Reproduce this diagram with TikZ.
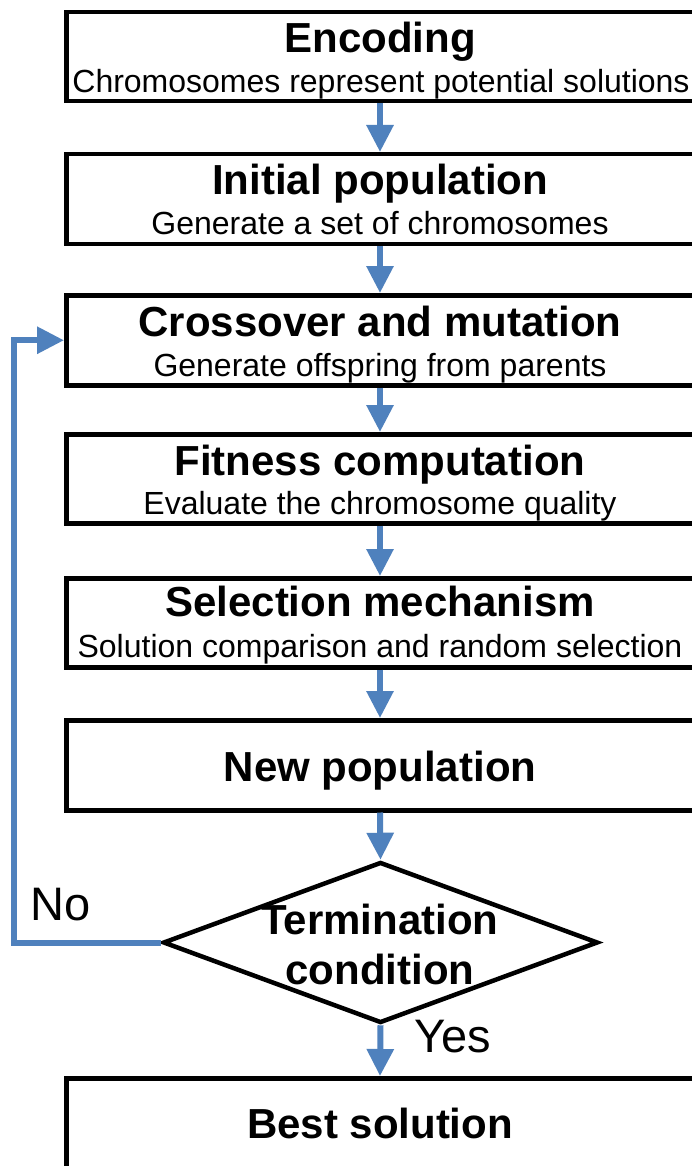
\documentclass[tikz,border=0pt]{standalone}
\usepackage{fontspec}
\setmainfont{Liberation Sans}
\usetikzlibrary{arrows.meta,shapes.geometric}
\definecolor{flowblue}{HTML}{4F81BD}
\tikzset{
  box/.style={draw=black, line width=4.5pt, fill=white, rectangle, inner sep=0pt, minimum width=632pt, anchor=north west},
  ttl/.style={anchor=base, inner sep=0pt, font=\fontsize{42}{48}\selectfont\bfseries},
  sub/.style={anchor=base, inner sep=0pt, font=\fontsize{32}{36}\selectfont},
  lbl/.style={anchor=base west, inner sep=0pt, font=\fontsize{47}{52}\selectfont},
  flow/.style={draw=flowblue, line width=6pt, -{Triangle[width=26pt,length=27pt]}},
}
\begin{document}
\begin{tikzpicture}[x=1pt,y=-1pt]
\clip (0,0) rectangle (692,1166);
\fill[white] (0,0) rectangle (692,1166);
% boxes
\node[box, minimum height=89pt] (b1) at (64,10) {};
\node[box, minimum height=90pt] (b2) at (64,152) {};
\node[box, minimum height=90pt] (b3) at (64,293) {};
\node[box, minimum height=89pt] (b4) at (64,432) {};
\node[box, minimum height=89pt] (b5) at (64,576) {};
\node[box, minimum height=90pt] (b6) at (64,718) {};
\node[box, minimum height=100pt] (b7) at (64,1076) {};
\node[draw=black, line width=4.5pt, diamond, aspect=2.7, minimum width=435pt, minimum height=161pt, inner sep=0pt, fill=white] (d) at (380.5,942.5) {};
% texts
\node[ttl] (t1) at (380,53) {Encoding};
\node[sub] (s1) at (381,93) {Chromosomes represent potential solutions};
\node[ttl] (t2) at (380,195) {Initial population};
\node[sub] (s2) at (380,235) {Generate a set of chromosomes};
\node[ttl] (t3) at (380,336) {Crossover and mutation};
\node[sub] (s3) at (380,376) {Generate offspring from parents};
\node[ttl] (t4) at (380,475) {Fitness computation};
\node[sub] (s4) at (380,514) {Evaluate the chromosome quality};
\node[ttl] (t5) at (380,616) {Selection mechanism};
\node[sub] (s5) at (380,657) {Solution comparison and random selection};
\node[ttl] (t6) at (380,781) {New population};
\node[ttl] (t7a) at (380,934) {Termination};
\node[ttl] (t7b) at (380,984) {condition};
\node[ttl] (t8) at (380,1138) {Best solution};
\node[lbl] (no) at (30,920) {No};
\node[lbl] (yes) at (414,1052) {Yes};
% connectors
\draw[flow] (b1.south -| t1.base) -- (b2.north -| t1.base);
\draw[flow] (b2.south -| t1.base) -- (b3.north -| t1.base);
\draw[flow] (b3.south -| t1.base) -- (b4.north -| t1.base);
\draw[flow] (b4.south -| t1.base) -- (b5.north -| t1.base);
\draw[flow] (b5.south -| t1.base) -- (b6.north -| t1.base);
\draw[flow] (b6.south -| t1.base) -- (d.north);
\draw[flow] (d.south) -- (b7.north -| t1.base);
\coordinate (lp) at (14,942.5);
\draw[flow] (d.west) -- (lp) |- (b3.west);
\end{tikzpicture}
\end{document}
